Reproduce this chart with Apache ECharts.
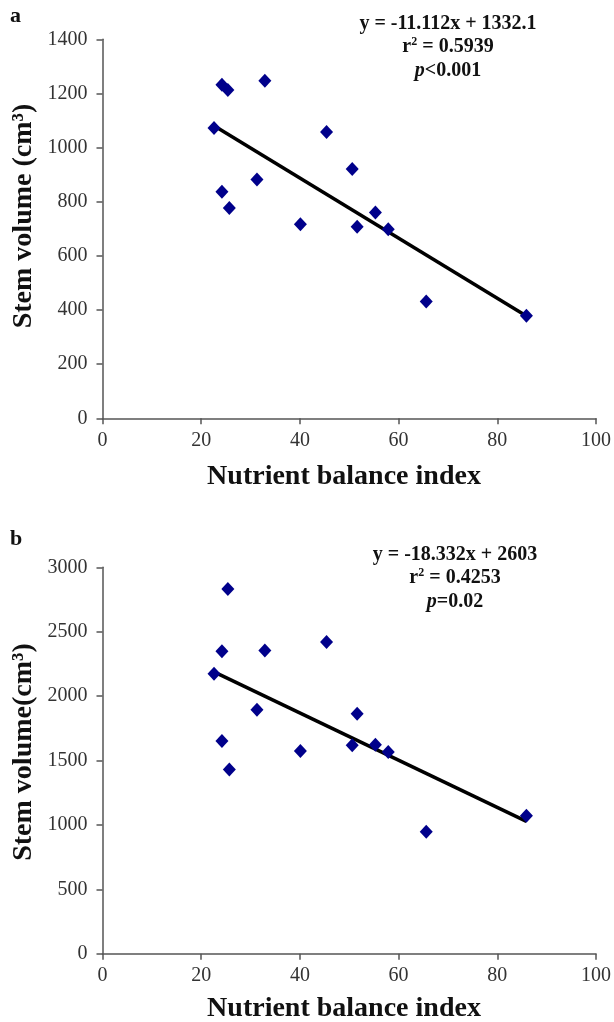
<!DOCTYPE html>
<html>
<head>
<meta charset="utf-8">
<title>Stem volume vs nutrient balance index</title>
<script src="https://cdn.jsdelivr.net/npm/echarts@6/dist/echarts.min.js"></script>
<style>
  html, body { margin: 0; padding: 0; background: #fff; }
  #chart { width: 614px; height: 1022px; }
</style>
</head>
<body>
<div id="chart"></div>
<script>
// nutrient balance index, same trees in both panels
const nbiA = [22.6, 24.2, 24.2, 25.4, 25.7, 31.3, 32.9, 40.1, 45.4, 50.6, 51.6, 55.3, 57.9, 65.6, 85.9]
const volumeA = [1072, 1232, 837, 1213, 777, 882, 1247, 717, 1058, 921, 708, 760, 698, 431, 379]
const nbiB = [22.6, 24.2, 24.2, 25.4, 25.7, 31.3, 32.9, 40.1, 45.4, 50.6, 51.6, 55.3, 57.9, 65.6, 85.9]
const volumeB = [2173, 2349, 1651, 2832, 1431, 1894, 2354, 1574, 2421, 1618, 1863, 1623, 1566, 948, 1072]

// fitted lines: [slope, intercept]
const fitA = [-11.112, 1332.1]
const fitB = [-18.332, 2603]

const xTicks = [0, 20, 40, 60, 80, 100]
const yTicksA = [0, 200, 400, 600, 800, 1000, 1200, 1400]
const yTicksB = [0, 500, 1000, 1500, 2000, 2500, 3000]

const serif = '"Liberation Serif", "Times New Roman", serif'
const markerColor = '#00008b'

function pairs(xs, ys) {
  return xs.map((x, i) => [x, ys[i]])
}

function fitLine(xs, fit) {
  const lo = Math.min(...xs)
  const hi = Math.max(...xs)
  return [[lo, fit[0] * lo + fit[1]], [hi, fit[0] * hi + fit[1]]]
}

function xAxisOf(gridIndex) {
  return {
    type: 'value',
    gridIndex: gridIndex,
    min: xTicks[0],
    max: xTicks[xTicks.length - 1],
    interval: xTicks[1] - xTicks[0],
    axisLine: { show: true, lineStyle: { color: '#555', width: 1.5 } },
    axisTick: { show: true, length: 6, lineStyle: { color: '#555', width: 1.5 } },
    axisLabel: { fontFamily: serif, fontSize: 20, color: '#333', margin: 12, formatter: v => String(v) },
    splitLine: { show: false }
  }
}

function yAxisOf(gridIndex, ticks) {
  return {
    type: 'value',
    gridIndex: gridIndex,
    min: ticks[0],
    max: ticks[ticks.length - 1],
    interval: ticks[1] - ticks[0],
    axisLine: { show: true, lineStyle: { color: '#555', width: 1.5 } },
    axisTick: { show: true, length: 6, lineStyle: { color: '#555', width: 1.5 } },
    axisLabel: { fontFamily: serif, fontSize: 20, color: '#333', margin: 15, formatter: v => String(v) },
    splitLine: { show: false }
  }
}

function titleText(x, y, text, vertical) {
  return {
    type: 'text',
    x: x,
    y: y,
    rotation: vertical ? Math.PI / 2 : 0,
    style: {
      text: text, fontFamily: serif, fontWeight: 'bold', fontSize: 28, fill: '#111',
      align: 'center', verticalAlign: 'middle'
    }
  }
}

function statsText(x, y, lines) {
  return {
    type: 'text',
    x: x,
    y: y,
    style: {
      text: lines.join('\n'),
      align: 'center',
      verticalAlign: 'top',
      lineHeight: 23.5,
      rich: {
        b: { fontFamily: serif, fontWeight: 'bold', fontSize: 20, fill: '#111', lineHeight: 23.5 },
        s: { fontFamily: serif, fontWeight: 'bold', fontSize: 12, fill: '#111', verticalAlign: 'top', lineHeight: 23.5, padding: [0, 0, 8, 0] },
        i: { fontFamily: serif, fontWeight: 'bold', fontStyle: 'italic', fontSize: 20, fill: '#111', lineHeight: 23.5 }
      }
    }
  }
}

function panelLetter(x, y, letter) {
  return {
    type: 'text',
    x: x,
    y: y,
    style: { text: letter, fontFamily: serif, fontWeight: 'bold', fontSize: 22, fill: '#111', verticalAlign: 'middle' }
  }
}

const chart = echarts.init(document.getElementById('chart'), null, { renderer: 'canvas' })

chart.setOption({
  backgroundColor: '#fff',
  animation: false,
  grid: [
    { left: 102.5, top: 39.3, width: 494.5, height: 379 },
    { left: 102.5, top: 567.3, width: 494.5, height: 386.5 }
  ],
  xAxis: [xAxisOf(0), xAxisOf(1)],
  yAxis: [yAxisOf(0, yTicksA), yAxisOf(1, yTicksB)],
  series: [
    {
      type: 'line', xAxisIndex: 0, yAxisIndex: 0,
      data: fitLine(nbiA, fitA), showSymbol: false, symbol: 'none',
      lineStyle: { color: '#000', width: 3.5 }, z: 2
    },
    {
      type: 'scatter', xAxisIndex: 0, yAxisIndex: 0,
      data: pairs(nbiA, volumeA), symbol: 'diamond', symbolSize: [13, 14],
      itemStyle: { color: markerColor, opacity: 1 }, z: 3
    },
    {
      type: 'line', xAxisIndex: 1, yAxisIndex: 1,
      data: fitLine(nbiB, fitB), showSymbol: false, symbol: 'none',
      lineStyle: { color: '#000', width: 3.5 }, z: 2
    },
    {
      type: 'scatter', xAxisIndex: 1, yAxisIndex: 1,
      data: pairs(nbiB, volumeB), symbol: 'diamond', symbolSize: [13, 14],
      itemStyle: { color: markerColor, opacity: 1 }, z: 3
    }
  ],
  graphic: [
    panelLetter(10, 16, 'a'),
    panelLetter(10, 539, 'b'),
    statsText(448, 12, ['{b|y = -11.112x + 1332.1}', '{b|r}{s|2}{b| = 0.5939}', '{i|p}{b|<0.001}']),
    statsText(455, 543, ['{b|y = -18.332x + 2603}', '{b|r}{s|2}{b| = 0.4253}', '{i|p}{b|=0.02}']),
    titleText(24, 216, 'Stem volume (cm³)', true),
    titleText(24, 752, 'Stem volume(cm³)', true),
    titleText(344, 477, 'Nutrient balance index', false),
    titleText(344, 1009, 'Nutrient balance index', false)
  ]
})
</script>
</body>
</html>
